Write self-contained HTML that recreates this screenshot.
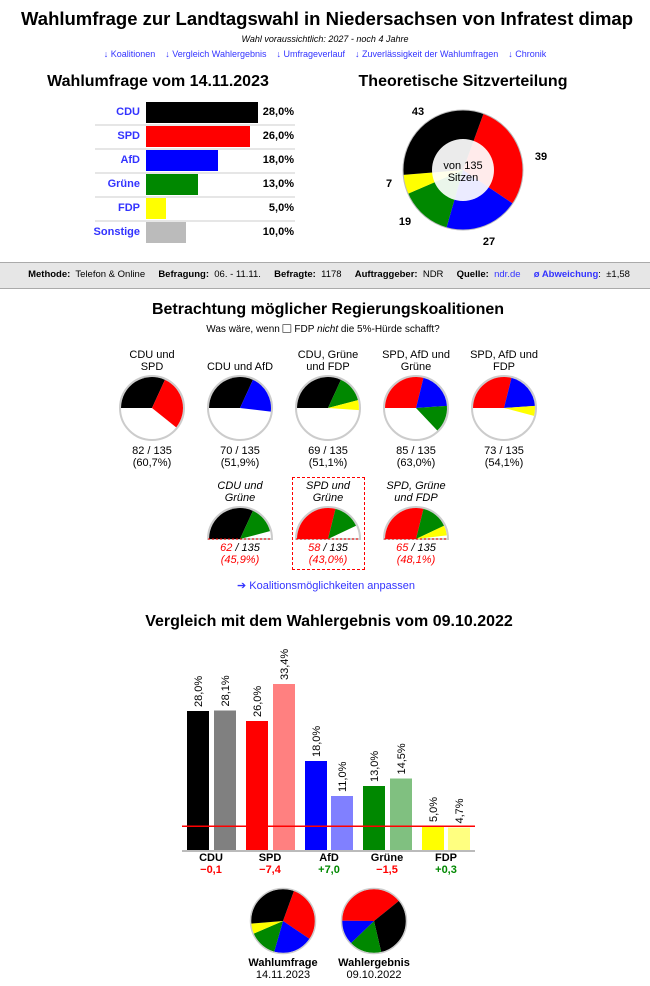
<!DOCTYPE html>
<html><head><meta charset="utf-8">
<style>
body{margin:0;width:650px;height:986px;position:relative;background:#fff;font-family:"Liberation Sans",Arial,sans-serif;color:#000;overflow:hidden}
.a{position:absolute;white-space:nowrap}
.c{position:absolute;white-space:nowrap;transform:translateX(-50%);text-align:center}
.h{font-weight:bold;font-size:16px}
.lk{color:#3333ff}
.s11{font-size:11px;line-height:12px}
.red{color:#f00}
.grn{color:#080}
svg{position:absolute;left:0;top:0}
</style></head><body>
<div class="c" style="left:327px;top:8px;font-size:18.5px;font-weight:bold">Wahlumfrage zur Landtagswahl in Niedersachsen von Infratest dimap</div>
<div class="c" style="left:325px;top:34px;font-size:9px;font-style:italic">Wahl voraussichtlich: 2027 - noch 4 Jahre</div>
<div class="c lk" style="left:325px;top:49px;font-size:9px;word-spacing:0px">↓ Koalitionen &nbsp;&nbsp; ↓ Vergleich Wahlergebnis &nbsp;&nbsp; ↓ Umfrageverlauf &nbsp;&nbsp; ↓ Zuverlässigkeit der Wahlumfragen &nbsp;&nbsp; ↓ Chronik</div>

<div class="c h" style="left:158px;top:73px">Wahlumfrage vom 14.11.2023</div>
<div class="c h" style="left:463px;top:73px">Theoretische Sitzverteilung</div>

<svg width="650" height="986" id="g"></svg>

<div class="a lk" style="right:510px;top:106px;font-size:11px;font-weight:bold">CDU</div>
<div class="a lk" style="right:510px;top:130px;font-size:11px;font-weight:bold">SPD</div>
<div class="a lk" style="right:510px;top:154px;font-size:11px;font-weight:bold">AfD</div>
<div class="a lk" style="right:510px;top:178px;font-size:11px;font-weight:bold">Grüne</div>
<div class="a lk" style="right:510px;top:202px;font-size:11px;font-weight:bold">FDP</div>
<div class="a lk" style="right:510px;top:226px;font-size:11px;font-weight:bold">Sonstige</div>
<div class="a" style="right:356px;top:106px;font-size:11px;font-weight:bold">28,0%</div>
<div class="a" style="right:356px;top:130px;font-size:11px;font-weight:bold">26,0%</div>
<div class="a" style="right:356px;top:154px;font-size:11px;font-weight:bold">18,0%</div>
<div class="a" style="right:356px;top:178px;font-size:11px;font-weight:bold">13,0%</div>
<div class="a" style="right:356px;top:202px;font-size:11px;font-weight:bold">5,0%</div>
<div class="a" style="right:356px;top:226px;font-size:11px;font-weight:bold">10,0%</div>

<div class="c" style="left:463px;top:160px;font-size:11px;line-height:12px">von 135<br>Sitzen</div>
<div class="c" style="left:418px;top:106px;font-size:11px;font-weight:bold">43</div>
<div class="c" style="left:541px;top:151px;font-size:11px;font-weight:bold">39</div>
<div class="c" style="left:489px;top:236px;font-size:11px;font-weight:bold">27</div>
<div class="c" style="left:405px;top:216px;font-size:11px;font-weight:bold">19</div>
<div class="c" style="left:389px;top:178px;font-size:11px;font-weight:bold">7</div>

<div class="a" style="left:0;top:262px;width:650px;height:25px;background:#e6e6e6;border-top:1px solid #aaa;border-bottom:1px solid #aaa"></div>
<div class="c" style="left:329px;top:269px;font-size:9.5px"><b>Methode:</b>&nbsp; Telefon &amp; Online &nbsp;&nbsp;&nbsp; <b>Befragung:</b>&nbsp; 06. - 11.11. &nbsp;&nbsp;&nbsp; <b>Befragte:</b>&nbsp; 1178 &nbsp;&nbsp;&nbsp; <b>Auftraggeber:</b>&nbsp; NDR &nbsp;&nbsp;&nbsp; <b>Quelle:</b>&nbsp; <span class="lk">ndr.de</span> &nbsp;&nbsp;&nbsp; <b class="lk">ø Abweichung</b>:&nbsp; ±1,58</div>

<div class="c h" style="left:328px;top:301px">Betrachtung möglicher Regierungskoalitionen</div>
<div class="c" style="left:323px;top:324px;font-size:10px">Was wäre, wenn <span style="display:inline-block;width:7px;height:7px;border:1px solid #777;border-radius:1px;vertical-align:-1px"></span> FDP <i>nicht</i> die 5%-Hürde schafft?</div>

<div class="c s11" style="left:152px;top:349px">CDU und<br>SPD</div>
<div class="c s11" style="left:240px;top:361px">CDU und AfD</div>
<div class="c s11" style="left:328px;top:349px">CDU, Grüne<br>und FDP</div>
<div class="c s11" style="left:416px;top:349px">SPD, AfD und<br>Grüne</div>
<div class="c s11" style="left:504px;top:349px">SPD, AfD und<br>FDP</div>
<div class="c s11" style="left:152px;top:445px">82 / 135<br>(60,7%)</div>
<div class="c s11" style="left:240px;top:445px">70 / 135<br>(51,9%)</div>
<div class="c s11" style="left:328px;top:445px">69 / 135<br>(51,1%)</div>
<div class="c s11" style="left:416px;top:445px">85 / 135<br>(63,0%)</div>
<div class="c s11" style="left:504px;top:445px">73 / 135<br>(54,1%)</div>

<div class="a" style="left:292px;top:477px;width:71px;height:91px;border:1px dashed #f00"></div>
<div class="c s11" style="left:240px;top:480px;font-style:italic">CDU und<br>Grüne</div>
<div class="c s11" style="left:328px;top:480px;font-style:italic">SPD und<br>Grüne</div>
<div class="c s11" style="left:416px;top:480px;font-style:italic">SPD, Grüne<br>und FDP</div>
<div class="c s11" style="left:240px;top:542px;font-style:italic"><span class="red">62</span> / 135<br><span class="red">(45,9%)</span></div>
<div class="c s11" style="left:328px;top:542px;font-style:italic"><span class="red">58</span> / 135<br><span class="red">(43,0%)</span></div>
<div class="c s11" style="left:416px;top:542px;font-style:italic"><span class="red">65</span> / 135<br><span class="red">(48,1%)</span></div>

<div class="c lk" style="left:326px;top:579px;font-size:11px">➔ Koalitionsmöglichkeiten anpassen</div>

<div class="c h" style="left:329px;top:613px">Vergleich mit dem Wahlergebnis vom 09.10.2022</div>

<div class="c" style="left:211px;top:852px;font-size:11px;font-weight:bold">CDU</div>
<div class="c" style="left:270px;top:852px;font-size:11px;font-weight:bold">SPD</div>
<div class="c" style="left:329px;top:852px;font-size:11px;font-weight:bold">AfD</div>
<div class="c" style="left:387px;top:852px;font-size:11px;font-weight:bold">Grüne</div>
<div class="c" style="left:446px;top:852px;font-size:11px;font-weight:bold">FDP</div>
<div class="c red" style="left:211px;top:864px;font-size:11px;font-weight:bold">−0,1</div>
<div class="c red" style="left:270px;top:864px;font-size:11px;font-weight:bold">−7,4</div>
<div class="c grn" style="left:329px;top:864px;font-size:11px;font-weight:bold">+7,0</div>
<div class="c red" style="left:387px;top:864px;font-size:11px;font-weight:bold">−1,5</div>
<div class="c grn" style="left:446px;top:864px;font-size:11px;font-weight:bold">+0,3</div>

<div class="c s11" style="left:283px;top:957px"><b>Wahlumfrage</b><br>14.11.2023</div>
<div class="c s11" style="left:374px;top:957px"><b>Wahlergebnis</b><br>09.10.2022</div>

<script>
var g=document.getElementById('g'),S='';
function P(cx,cy,r,a,b){var t=function(d){d=(d-90)*Math.PI/180;return [cx+r*Math.cos(d),cy+r*Math.sin(d)]};var p=t(a),q=t(b);return 'M'+cx+','+cy+'L'+p[0].toFixed(2)+','+p[1].toFixed(2)+'A'+r+','+r+' 0 '+((b-a)>180?1:0)+' 1 '+q[0].toFixed(2)+','+q[1].toFixed(2)+'Z';}
function pie(cx,cy,r,start,segs,tot){var a=start;segs.forEach(function(s){var b=a+s[0]/tot*360;S+='<path d="'+P(cx,cy,r,a,b)+'" fill="'+s[1]+'"/>';a=b;});}
var rows=[[28,'#000'],[26,'#f00'],[18,'#00f'],[13,'#080'],[5,'#ff0'],[10,'#bbb']];
rows.forEach(function(r,i){var y=102+i*24;S+='<rect x="146" y="'+y+'" width="'+(r[0]*4)+'" height="21" fill="'+r[1]+'"/>';if(i<5)S+='<rect x="95" y="'+(y+22.5)+'" width="200" height="1" fill="#ccc"/>';});
pie(463,170,60,20,[[39,'#f00'],[27,'#00f'],[19,'#080'],[7,'#ff0'],[43,'#000']],135);
S+='<circle cx="463" cy="170" r="60" fill="none" stroke="#bbb" stroke-width="1"/>';
S+='<circle cx="463" cy="170" r="31" fill="#fff" fill-opacity="0.92"/>';
var C={CDU:[43,'#000'],SPD:[39,'#f00'],AfD:[27,'#00f'],G:[19,'#080'],FDP:[7,'#ff0']};
var co=[[152,['CDU','SPD']],[240,['CDU','AfD']],[328,['CDU','G','FDP']],[416,['SPD','AfD','G']],[504,['SPD','AfD','FDP']]];
co.forEach(function(c){S+='<circle cx="'+c[0]+'" cy="408" r="32" fill="#fff" stroke="#ccc" stroke-width="2"/>';pie(c[0],408,31,270,c[1].map(function(k){return C[k]}),135);});
var co2=[[240,['CDU','G']],[328,['SPD','G']],[416,['SPD','G','FDP']]];
co2.forEach(function(c){var x=c[0],y=539;S+='<path d="M'+(x-32)+','+y+'A32,32 0 0 1 '+(x+32)+','+y+'Z" fill="#fff" stroke="#ccc" stroke-width="2"/>';pie(x,y,31,270,c[1].map(function(k){return C[k]}),135);S+='<line x1="'+(x-32)+'" y1="'+y+'" x2="'+(x+32)+'" y2="'+y+'" stroke="#f00" stroke-width="1" stroke-dasharray="2,2"/>';});
var b=[[187,28,'#000','28,0%'],[214,28.1,'#808080','28,1%'],[246,26,'#f00','26,0%'],[273,33.4,'#ff8080','33,4%'],[305,18,'#00f','18,0%'],[331,11,'#8080ff','11,0%'],[363,13,'#080','13,0%'],[390,14.5,'#80c080','14,5%'],[422,5,'#ff0','5,0%'],[448,4.7,'#ffff80','4,7%']];
b.forEach(function(r){var h=r[1]*5,y=851-h;S+='<rect x="'+r[0]+'" y="'+y+'" width="22" height="'+h+'" fill="'+r[2]+'"/>';S+='<text transform="translate('+(r[0]+15)+','+(y-4)+') rotate(-90)" font-family="Liberation Sans,Arial,sans-serif" font-size="11">'+r[3]+'</text>';});
S+='<rect x="182" y="850" width="293" height="2" fill="#bbb"/>';
S+='<rect x="182" y="825.5" width="293" height="1.5" fill="#f00"/>';
pie(283,921,32,20,[[39,'#f00'],[27,'#00f'],[19,'#080'],[7,'#ff0'],[43,'#000']],135);
S+='<circle cx="283" cy="921" r="32.5" fill="none" stroke="#ccc" stroke-width="1.5"/>';
pie(374,921,32,-89.5,[[57,'#f00'],[47,'#000'],[24,'#080'],[18,'#00f']],146);
S+='<circle cx="374" cy="921" r="32.5" fill="none" stroke="#ccc" stroke-width="1.5"/>';
g.innerHTML=S;
</script>
</body></html>
